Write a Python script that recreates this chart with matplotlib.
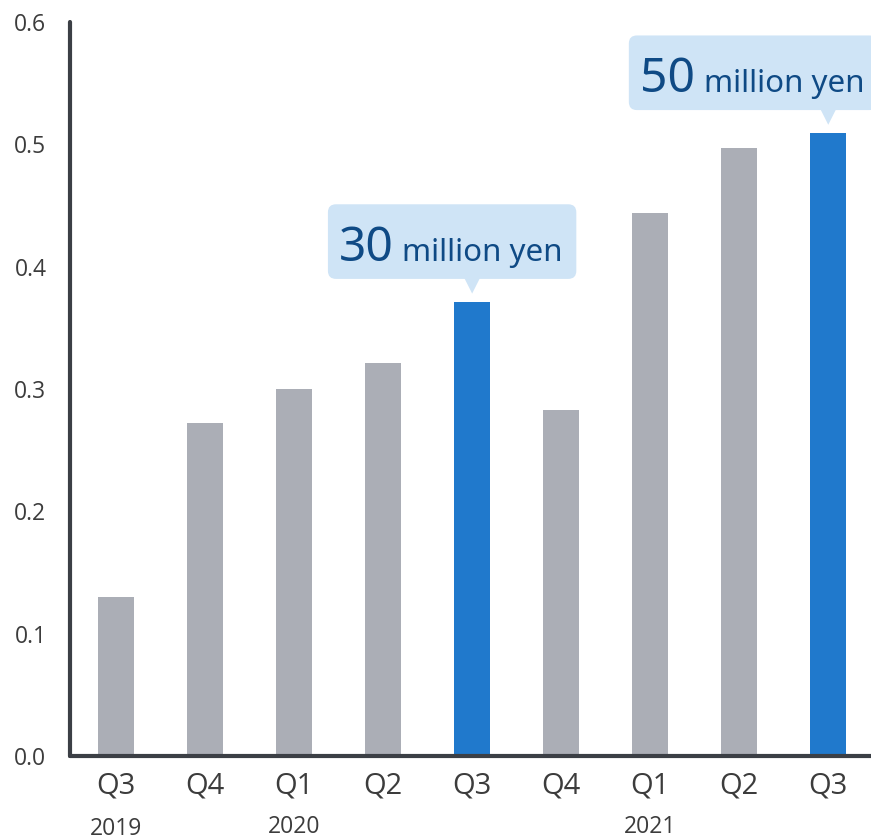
import matplotlib.pyplot as plt
from matplotlib.patches import FancyBboxPatch, Polygon
from matplotlib.transforms import blended_transform_factory

## quarterly values (100 million yen)
quarters = ["Q3", "Q4", "Q1", "Q2", "Q3", "Q4", "Q1", "Q2", "Q3"]
values = [0.130, 0.272, 0.300, 0.321, 0.371, 0.283, 0.444, 0.497, 0.509]
highlight = [4, 8]
years = ["2019", "2020", "2021"]
year_pos = [0, 2, 6]
callout_num = ["30", "50"]
callout_unit = "million yen"

grey = "#abaeb6"
blue = "#2079cc"
box_fc = "#cfe4f6"
txt_blue = "#0f4a85"
dark = "#3b3f45"

plt.rcParams['font.family'] = ['Open Sans', 'DejaVu Sans']

fig = plt.figure(figsize=(8.71, 8.40), dpi=100)
ax = fig.add_axes([70/871, 84/840, 801/871, 734/840])

x = list(range(len(values)))
colors = [blue if i in highlight else grey for i in x]
ax.bar(x, values, width=0.405, color=colors, zorder=2)

ax.set_xlim(-0.517, 8.48)
ax.set_ylim(0, 0.6)
ax.set_yticks([0.0, 0.1, 0.2, 0.3, 0.4, 0.5, 0.6])
ax.set_yticklabels(["0.0", "0.1", "0.2", "0.3", "0.4", "0.5", "0.6"])
ax.set_xticks(x)
ax.set_xticklabels(quarters)
ax.tick_params(axis='y', length=0, pad=17, labelsize=16.5, labelcolor="#3c3c3c")
ax.tick_params(axis='x', length=0, pad=11, labelsize=21, labelcolor="#3c3c3c")

for s in ["top", "right"]:
    ax.spines[s].set_visible(False)
for s in ["left", "bottom"]:
    ax.spines[s].set_linewidth(3)
    ax.spines[s].set_color(dark)
    ax.spines[s].set_capstyle('round')

# year labels under the quarter ticks
trans = blended_transform_factory(ax.transData, ax.transAxes)
for yr, p, dy in zip(years, year_pos, [-0.099, -0.097, -0.097]):
    ax.text(p, dy, yr, transform=trans, ha='center', va='center',
            fontsize=16.5, color="#3c3c3c")

# callout boxes over highlighted bars
aspect = 89 / 1222
num_texts = []
for idx, num in zip(highlight, callout_num):
    v = values[idx]
    x0 = idx - 1.62 if idx < 8 else idx - 2.24
    y0 = v + 0.019
    h = 0.061
    box = FancyBboxPatch((x0, y0), 2.79, h,
                         boxstyle="round,pad=0,rounding_size=0.09",
                         mutation_aspect=aspect, fc=box_fc, ec='none',
                         clip_on=False, zorder=3)
    ax.add_patch(box)
    tri = Polygon([(idx - 0.09, y0 + 0.001), (idx + 0.09, y0 + 0.001), (idx, v + 0.007)],
                  closed=True, fc=box_fc, ec='none', clip_on=False, zorder=3)
    ax.add_patch(tri)
    t = ax.text(x0 + 0.12, y0 + 0.0145, num, fontsize=34.5, color=txt_blue,
                family=['Noto Sans', 'DejaVu Sans'], va='baseline', ha='left',
                zorder=4, clip_on=False)
    num_texts.append(t)

fig.canvas.draw()
r = fig.canvas.get_renderer()
for t in num_texts:
    ext = t.get_window_extent(r)
    xd = ax.transData.inverted().transform((ext.x1 + 9, 0))[0]
    ax.text(xd, t.get_position()[1], callout_unit, fontsize=22.5, color=txt_blue,
            family=['Noto Sans', 'DejaVu Sans'], va='baseline', ha='left',
            zorder=4, clip_on=False)

fig.savefig("out.png", dpi=100)
